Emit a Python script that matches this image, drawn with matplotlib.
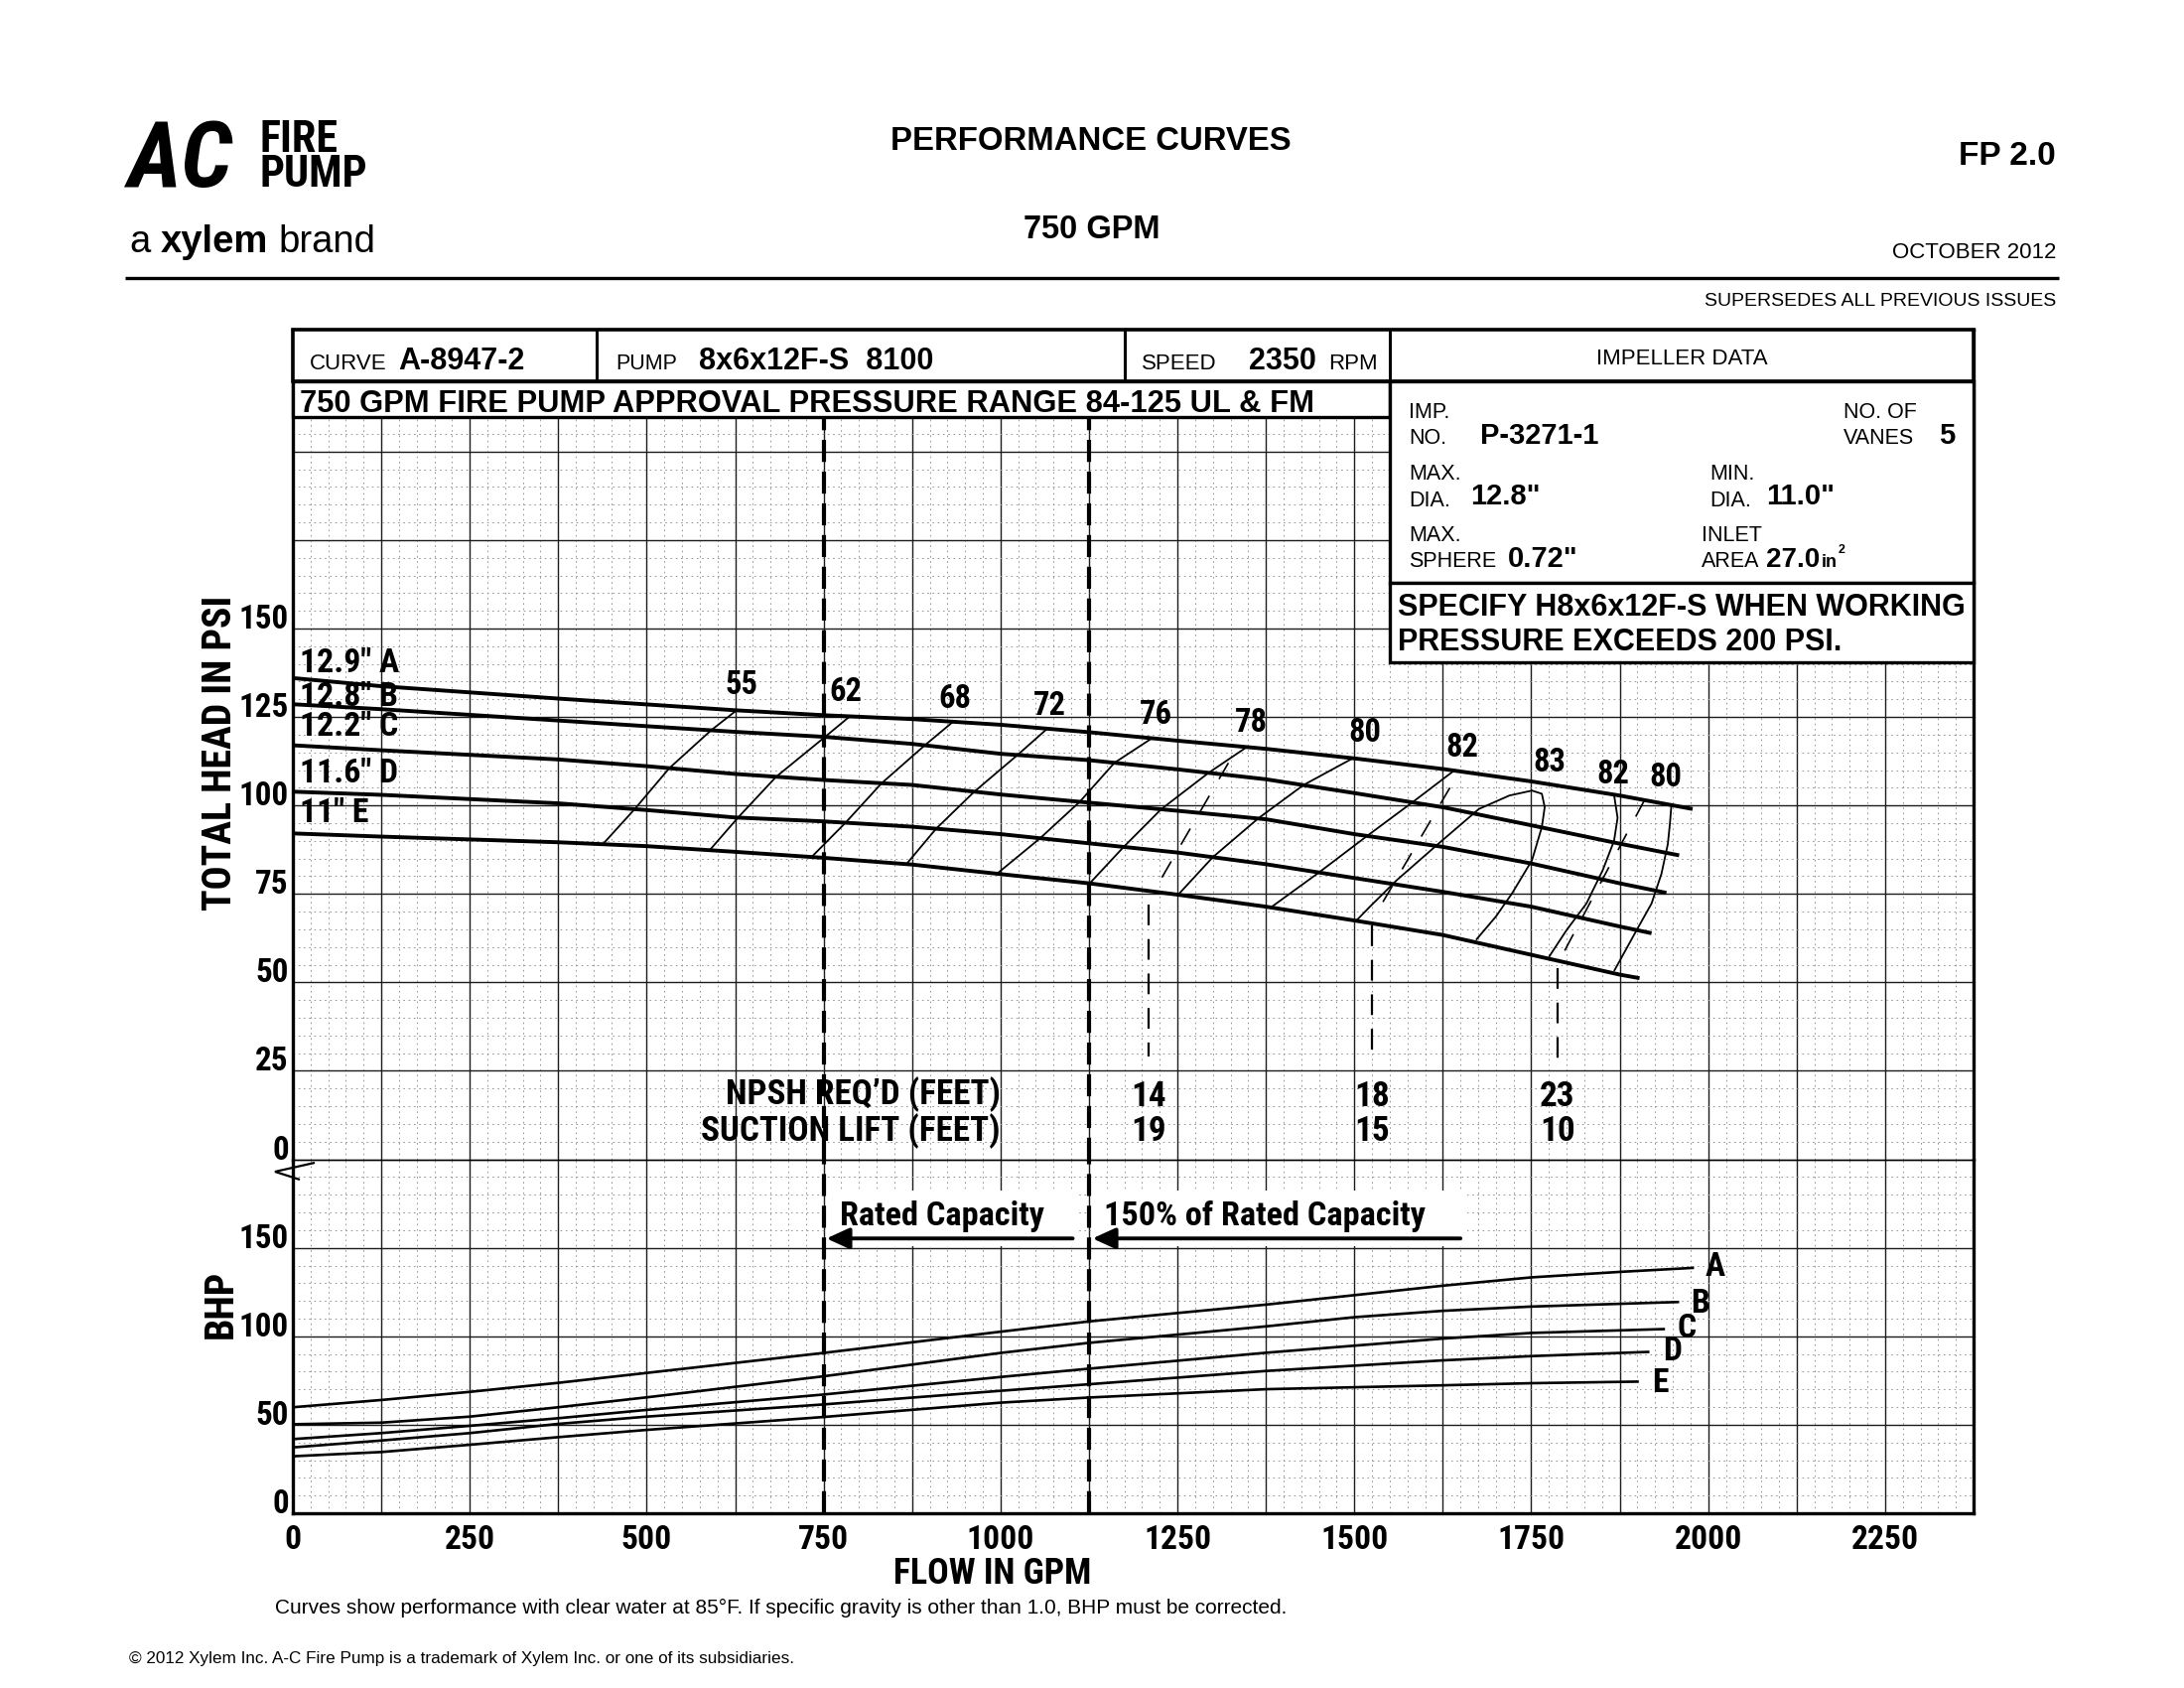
import os
import numpy as np
import matplotlib
matplotlib.use("Agg")
import matplotlib.pyplot as plt
from matplotlib import font_manager as fm
from matplotlib.font_manager import FontProperties
from matplotlib.patches import Rectangle
from matplotlib.lines import Line2D
from matplotlib.ticker import MultipleLocator

# ======================= DATA =======================
X_TICKS = list(range(0, 2376, 125))
X_LABELS = [str(v) if v % 250 == 0 else "" for v in X_TICKS]
HEAD_TICKS = list(range(0, 226, 25))
HEAD_LABELS = [str(v) if v <= 150 else "" for v in HEAD_TICKS]
BHP_TICKS = [0, 50, 100, 150, 200]
BHP_LABELS = ["0", "50", "100", "150", ""]

IMPELLERS = ["A", "B", "C", "D", "E"]
DIAMETERS = ['12.9"', '12.8"', '12.2"', '11.6"', '11"']

# head curves (GPM, PSI)
HEAD_Q_A = [0, 125, 375, 625, 750, 875, 1000, 1125, 1250, 1375, 1500, 1625, 1750, 1875, 1978]
HEAD_P_A = [136.0, 133.7, 130.2, 126.9, 125.5, 124.4, 122.8, 120.7, 118.3, 116.0, 113.3, 110.3, 106.8, 102.8, 99.0]
HEAD_Q_B = [0, 125, 375, 500, 625, 750, 875, 1000, 1125, 1250, 1375, 1500, 1625, 1750, 1875, 1959]
HEAD_P_B = [128.6, 127.2, 124.0, 122.4, 120.8, 119.4, 117.4, 114.6, 112.8, 110.2, 107.4, 103.5, 99.5, 94.4, 89.2, 85.9]
HEAD_Q_C = [0, 125, 375, 500, 625, 750, 875, 1000, 1125, 1250, 1375, 1500, 1625, 1750, 1875, 1941]
HEAD_P_C = [117.0, 115.6, 113.0, 111.1, 108.9, 107.2, 105.8, 103.1, 100.8, 98.5, 96.1, 91.9, 88.3, 83.6, 78.0, 75.3]
HEAD_Q_D = [0, 125, 375, 500, 625, 750, 875, 1000, 1125, 1250, 1375, 1500, 1625, 1750, 1875, 1920]
HEAD_P_D = [103.9, 103.0, 100.6, 98.7, 96.6, 95.5, 94.0, 91.9, 89.3, 86.7, 83.4, 79.5, 75.6, 71.4, 65.8, 63.9]
HEAD_Q_E = [0, 125, 375, 500, 625, 750, 875, 1000, 1125, 1250, 1375, 1500, 1625, 1750, 1875, 1903]
HEAD_P_E = [92.1, 91.2, 89.6, 88.5, 86.9, 85.2, 83.3, 80.6, 78.0, 74.8, 71.4, 67.5, 63.4, 57.8, 52.2, 51.2]

# efficiency lines: flow where each line crosses curves A..E
EFF_55_Q = [627, 591, 532, 483, 438]
EFF_62_Q = [787, 752, 683, 629, 589]
EFF_68_Q = [933, 893, 832, 781, 733]
EFF_72_Q = [1066, 1024, 963, 909, 867]
EFF_76_Q = [1214, 1161, 1112, 1056, 995]
EFF_78_Q = [1348, 1294, 1227, 1174, 1126]
EFF_80_Q = [1498, 1428, 1364, 1300, 1251]
EFF_82_Q = [1641, 1582, 1518, 1450, 1382]
# closed / right-hand efficiency curves (GPM, PSI)
EFF_83_Q = [1503, 1522, 1560, 1616, 1676, 1719, 1751, 1765, 1769, 1765, 1751, 1723, 1700, 1672]
EFF_83_P = [67.5, 71.4, 78.9, 88.7, 99.0, 102.8, 104.2, 103.3, 99.5, 93.9, 84.5, 75.2, 68.6, 62.0]
EFF_82R_Q = [1867, 1872, 1867, 1851, 1828, 1800, 1775]
EFF_82R_P = [103.0, 96.5, 90.0, 81.7, 72.3, 64.8, 57.2]
EFF_80R_Q = [1948, 1946, 1943, 1934, 1920, 1899, 1867]
EFF_80R_P = [100.0, 95.0, 89.1, 80.7, 72.3, 64.8, 53.2]

EFF_LABELS = ["55", "62", "68", "72", "76", "78", "80", "82", "83", "82", "80"]
EFF_LABEL_Q = [634, 781, 936, 1070, 1219, 1354, 1515, 1652, 1776, 1865, 1940]
EFF_LABEL_P = [133.9, 131.9, 130.2, 128.2, 125.6, 123.2, 120.6, 116.2, 112.0, 108.8, 108.0]

CURVE_LABEL_P = [140.3, 130.7, 122.2, 109.0, 97.8]

# NPSH markers
NPSH_Q = [1209, 1525, 1787]
NPSH_REQ = ["14", "18", "23"]
SUCTION_LIFT = ["19", "15", "10"]
NPSH_SLANT_TOP_Q = [1322, 1635, 1910]
NPSH_SLANT_TOP_P = [112.0, 105.0, 101.5]
NPSH_SLANT_BOT_Q = [1216, 1528, 1792]
NPSH_SLANT_BOT_P = [75.5, 68.5, 57.0]
NPSH_VERT_TOP_P = [72.0, 66.0, 54.0]
NPSH_VERT_BOT_P = [29.0, 27.0, 28.0]

# BHP curves (GPM, BHP)
BHP_Q_A = [0, 125, 250, 375, 500, 750, 1000, 1125, 1375, 1625, 1750, 1875, 1980]
BHP_P_A = [59.9, 64.0, 68.6, 73.7, 79.3, 90.6, 102.6, 108.4, 117.9, 128.6, 133.3, 136.4, 138.7]
BHP_Q_B = [0, 125, 250, 375, 500, 750, 1000, 1125, 1375, 1500, 1625, 1750, 1959]
BHP_P_B = [50.3, 51.2, 54.6, 59.9, 65.5, 77.4, 90.6, 96.3, 105.6, 110.8, 114.4, 116.8, 119.4]
BHP_Q_C = [0, 125, 250, 375, 500, 750, 1000, 1125, 1375, 1625, 1750, 1939]
BHP_P_C = [41.9, 45.3, 49.4, 53.7, 58.4, 67.1, 77.0, 81.7, 90.7, 98.7, 101.9, 104.1]
BHP_Q_D = [0, 125, 250, 375, 500, 750, 1000, 1125, 1375, 1625, 1750, 1917]
BHP_P_D = [37.2, 41.1, 45.3, 50.5, 54.6, 61.5, 69.2, 72.9, 80.4, 86.4, 88.8, 91.2]
BHP_Q_E = [0, 125, 250, 375, 500, 750, 1000, 1125, 1375, 1625, 1750, 1902]
BHP_P_E = [32.2, 34.6, 38.7, 43.0, 47.1, 54.4, 62.5, 65.4, 70.1, 72.3, 73.5, 74.4]
BHP_LABEL_Q = [2010, 1989, 1970, 1950, 1932]
BHP_LABEL_P = [138.9, 118.3, 104.3, 91.2, 73.6]

RATED_FLOW = 750
OVERLOAD_FLOW = 1125

# ======================= FONTS =======================
SANS = ["Liberation Sans", "DejaVu Sans"]
plt.rcParams["font.family"] = SANS
plt.rcParams["lines.scale_dashes"] = False
plt.rcParams["lines.solid_capstyle"] = "butt"


def find_font(prefixes):
    files = {}
    for f in fm.fontManager.ttflist:
        files[os.path.basename(f.fname).lower().replace(" ", "").replace("_", "")] = f.fname
    for p in prefixes:
        for b in sorted(files):
            if b.startswith(p):
                return files[b]
    return None

COND_BOLD = find_font(["liberationsansnarrow-bold.", "arialnarrowbold", "arialnarrow-bold",
                       "robotocondensed-bold.", "notosans-condensedbold.", "notosans-semicondensedbold.",
                       "opensans-condensedbold.", "opensanscondensed-bold.", "dejavusanscondensed-bold."])
COND_BOLD_IT = find_font(["liberationsansnarrow-bolditalic.", "robotocondensed-bolditalic.",
                          "notosans-condensedbolditalic.", "notosans-semicondensedbolditalic.",
                          "dejavusanscondensed-boldoblique."])


def cprop(size=20):
    if COND_BOLD:
        return FontProperties(fname=COND_BOLD, size=size)
    return FontProperties(family=SANS, weight="bold", size=size)


def cprop_it(size=20):
    if COND_BOLD_IT:
        return FontProperties(fname=COND_BOLD_IT, size=size)
    return FontProperties(family=SANS, weight="bold", style="italic", size=size)


def sprop(size=20, weight="normal"):
    return FontProperties(family=SANS, weight=weight, size=size)

# ======================= FIGURE =======================
W, H, DPI = 2200, 1700, 100
fig = plt.figure(figsize=(W / DPI, H / DPI), dpi=DPI)
fig.patch.set_facecolor("white")
RND = fig.canvas.get_renderer()


def text_whd(s, prop):
    return RND.get_text_width_height_descent(s, prop, ismath=False)


def text_w(s, prop):
    return text_whd(s, prop)[0]


def fit(s, target_px, maker=cprop, **kw):
    p = maker(20, **kw)
    return 20.0 * target_px / text_w(s, p)


def fit2(s, target_w, target_cap, maker=cprop):
    sw = fit(s, target_w, maker)
    w, h, d = text_whd("H", maker(20))
    sh = 20.0 * target_cap / h
    return float(np.sqrt(sw * sh))


def line_spacing(prop, target_px):
    w, h, d = text_whd("lp", prop)
    return (target_px - d) / (h - d)


def fx(x):
    return x / W


def fy(y):
    return 1 - y / H

# font sizes (pt) fitted to reference text widths / cap heights (px)
S_XT = fit2("2000", 66, 25)
S_YT = fit2("150", 52, 23)
S_EFF = fit2("68", 31, 25)
S_CURVE = fit2('12.9" A', 102, 24)
S_NPSH = fit2("SUCTION LIFT (FEET)", 318, 24)
S_RATED = fit2("150% of Rated Capacity", 348, 23)
S_YLAB = fit2("TOTAL HEAD IN PSI", 337, 27)
S_XLAB = fit2("FLOW IN GPM", 206, 25)
S_BANNER = fit("750 GPM FIRE PUMP APPROVAL PRESSURE RANGE 84-125 UL & FM", 1020, sprop, weight="bold")
S_AC = fit("AC", 106, cprop_it)
S_FIRE = fit2("PUMP", 108, 32)
S_FOOT = fit("Curves show performance with clear water at 85\u00b0F. If specific gravity is other than 1.0, BHP must be corrected.", 1019, sprop)
S_COPY = fit("\u00a9 2012 Xylem Inc. A-C Fire Pump is a trademark of Xylem Inc. or one of its subsidiaries.", 667, sprop)
S_XYL = fit("a xylem brand", 240, sprop)

L, R = 295.0, 1988.0
TOP, MID, BOT = 331.5, 1167.6, 1524.0
CELL = (R - L) / 19.0
HEAD_TOP = 25.0 * (MID - TOP) / CELL
BHP_TOP = 50.0 * (BOT - MID) / CELL
PX_PER_PSI = CELL / 25.0

axh = fig.add_axes([fx(L), fy(MID), (R - L) / W, (MID - TOP) / H])
axb = fig.add_axes([fx(L), fy(BOT), (R - L) / W, (BOT - MID) / H])

MAJ = dict(color="#1c1c1c", lw=1.0, ls="-")
MINR = dict(color="#979797", lw=0.7, ls=(0, (1.2, 2.6)))

for ax in (axh, axb):
    ax.set_xlim(0, 2375)
    ax.set_axisbelow(True)
    ax.xaxis.set_minor_locator(MultipleLocator(25))
    ax.tick_params(which="both", length=0)
    for s in ax.spines.values():
        s.set_linewidth(2.4)
        s.set_color("black")

axh.set_ylim(0, HEAD_TOP)
axb.set_ylim(0, BHP_TOP)
axh.set_xticks(X_TICKS, [""] * len(X_TICKS))
axb.set_xticks(X_TICKS, X_LABELS, fontproperties=cprop(S_XT))
axh.set_yticks(HEAD_TICKS, HEAD_LABELS, va="baseline", fontproperties=cprop(S_YT))
axb.set_yticks(BHP_TICKS, BHP_LABELS, va="baseline", fontproperties=cprop(S_YT))
axh.yaxis.set_minor_locator(MultipleLocator(5))
axb.yaxis.set_minor_locator(MultipleLocator(10))
axh.tick_params(axis="y", pad=3)
axb.tick_params(axis="y", pad=3)
axb.tick_params(axis="x", pad=8)
for ax in (axh, axb):
    ax.grid(which="major", **MAJ)
    ax.grid(which="minor", **MINR)
axh.spines["bottom"].set_visible(False)
axb.spines["top"].set_linewidth(1.0)

# axis labels
axh.set_ylabel("TOTAL HEAD IN PSI", fontproperties=cprop(S_YLAB))
axh.yaxis.set_label_coords((222 - L) / (R - L), (MID - 758) / (MID - TOP))
axh.yaxis.label.set_va("center")
axb.set_ylabel("BHP", fontproperties=cprop(S_YLAB))
axb.yaxis.set_label_coords((223 - L) / (R - L), 0.59)
axb.yaxis.label.set_va("center")
axb.set_xlabel("FLOW IN GPM", fontproperties=cprop(S_XLAB))
axb.xaxis.set_label_coords((1000 - L) / (R - L), (BOT - 1585) / (BOT - MID))
axb.xaxis.label.set_va("center")

# ---------------- head curves ----------------
HQ = [HEAD_Q_A, HEAD_Q_B, HEAD_Q_C, HEAD_Q_D, HEAD_Q_E]
HP = [HEAD_P_A, HEAD_P_B, HEAD_P_C, HEAD_P_D, HEAD_P_E]
for q, p in zip(HQ, HP):
    axh.plot(q, p, color="black", lw=2.8, solid_joinstyle="round", zorder=4)

for i, (d, name) in enumerate(zip(DIAMETERS, IMPELLERS)):
    axh.text(10, CURVE_LABEL_P[i], f"{d} {name}", ha="left", va="center", zorder=6,
             fontproperties=cprop(S_CURVE))

# ---------------- efficiency lines ----------------
for qs in (EFF_55_Q, EFF_62_Q, EFF_68_Q, EFF_72_Q, EFF_76_Q, EFF_78_Q, EFF_80_Q, EFF_82_Q):
    ps = [np.interp(qq, HQ[k], HP[k]) for k, qq in enumerate(qs)]
    axh.plot(qs, ps, color="black", lw=1.3, solid_joinstyle="round", zorder=3)
for q, p in ((EFF_83_Q, EFF_83_P), (EFF_82R_Q, EFF_82R_P), (EFF_80R_Q, EFF_80R_P)):
    axh.plot(q, p, color="black", lw=1.3, solid_joinstyle="round", zorder=3)
for s, q, p in zip(EFF_LABELS, EFF_LABEL_Q, EFF_LABEL_P):
    axh.text(q, p, s, ha="center", va="center", zorder=6, fontproperties=cprop(S_EFF))

# ---------------- NPSH markers ----------------
npsh_prop = cprop(S_NPSH)
NPSH_LS = line_spacing(npsh_prop, 9.6 * PX_PER_PSI)
for i in range(len(NPSH_Q)):
    axh.plot([NPSH_SLANT_TOP_Q[i], NPSH_SLANT_BOT_Q[i]], [NPSH_SLANT_TOP_P[i], NPSH_SLANT_BOT_P[i]],
             color="black", lw=1.2, dashes=(13.5, 14), zorder=3)
    axh.plot([NPSH_Q[i], NPSH_Q[i]], [NPSH_VERT_TOP_P[i], NPSH_VERT_BOT_P[i]],
             color="black", lw=1.6, dashes=(15, 10), zorder=3)
    # va="baseline" aligns the baseline of the last line
    axh.text(NPSH_Q[i], 5.3, f"{NPSH_REQ[i]}\n{SUCTION_LIFT[i]}", ha="center", va="baseline",
             multialignment="center", linespacing=NPSH_LS, zorder=6, fontproperties=npsh_prop)
axh.text(1000, 5.3, "NPSH REQ\u2019D (FEET)\nSUCTION LIFT (FEET)", ha="right", va="baseline",
         multialignment="right", linespacing=NPSH_LS, zorder=6, fontproperties=npsh_prop)

# ---------------- rated / 150% lines ----------------
for xq in (RATED_FLOW, OVERLOAD_FLOW):
    axh.plot([xq, xq], [0, 209.6], color="black", lw=3.0, dashes=(16, 7), zorder=5)
    axb.plot([xq, xq], [0, BHP_TOP], color="black", lw=3.0, dashes=(16, 7), zorder=5)

# ---------------- BHP curves ----------------
BQ = [BHP_Q_A, BHP_Q_B, BHP_Q_C, BHP_Q_D, BHP_Q_E]
BP = [BHP_P_A, BHP_P_B, BHP_P_C, BHP_P_D, BHP_P_E]
for q, p in zip(BQ, BP):
    axb.plot(q, p, color="black", lw=1.9, solid_joinstyle="round", zorder=4)
for name, q, p in zip(IMPELLERS, BHP_LABEL_Q, BHP_LABEL_P):
    axb.text(q, p, name, ha="center", va="center", zorder=6, fontproperties=cprop(S_XT))

axb.add_patch(Rectangle((RATED_FLOW + 3, 150.8), 1108 - RATED_FLOW - 3, 31.6, fc="white", ec="none", zorder=2.5))
axb.add_patch(Rectangle((OVERLOAD_FLOW + 3, 150.8), 1660 - OVERLOAD_FLOW - 3, 31.6, fc="white", ec="none", zorder=2.5))
axb.text(773, 162.7, "Rated Capacity", ha="left", va="baseline", zorder=6, fontproperties=cprop(S_RATED))
axb.text(1146, 162.7, "150% of Rated Capacity", ha="left", va="baseline", zorder=6, fontproperties=cprop(S_RATED))
ARW = dict(arrowstyle="-|>,head_length=0.7,head_width=0.32", lw=2.8, color="black",
           shrinkA=0, shrinkB=0, mutation_scale=20)
axb.annotate("", xy=(RATED_FLOW + 4, 155.3), xytext=(1102, 155.3), arrowprops=ARW, zorder=6)
axb.annotate("", xy=(OVERLOAD_FLOW + 5, 155.3), xytext=(1650, 155.3), arrowprops=ARW, zorder=6)

# ======================= HEADER / TABLE =======================

def frect(x0, y0, x1, y1, lw=2.2, z=5):
    fig.add_artist(Rectangle((fx(x0), fy(y1)), (x1 - x0) / W, (y1 - y0) / H,
                             transform=fig.transFigure, fc="white", ec="black", lw=lw, zorder=z))


def fline(pts, lw=2.2, z=6):
    xs = [fx(p[0]) for p in pts]
    ys = [fy(p[1]) for p in pts]
    fig.add_artist(Line2D(xs, ys, transform=fig.transFigure, color="black", lw=lw, zorder=z,
                          solid_joinstyle="miter"))


def ftext(x, y, s, size, weight="normal", ha="left", va="baseline", prop=None, **kw):
    if prop is None:
        prop = sprop(size, weight)
    return fig.text(fx(x), fy(y), s, fontproperties=prop, ha=ha, va=va, zorder=8, **kw)

frect(L, TOP, R, 384, lw=2.6)
frect(L, 384, 1400, 420, lw=2.4)
frect(1400, 384, R, 587, lw=2.4)
frect(1400, 587, R, 667, lw=2.4)
fline([(601, TOP), (601, 384)])
fline([(1133, TOP), (1133, 384)])
fline([(1400, TOP), (1400, 384)])

ftext(312, 372, "CURVE", 16)
ftext(401, 372, "A-8947-2", 22, "bold")
ftext(620, 372, "PUMP", 15.5)
ftext(704, 372, "8x6x12F-S  8100", 22, "bold")
ftext(1150, 372, "SPEED", 16)
ftext(1258, 372, "2350", 22, "bold")
ftext(1338, 372, "RPM", 16)
ftext(1694, 367, "IMPELLER DATA", 16, ha="center")
ftext(302, 415, "750 GPM FIRE PUMP APPROVAL PRESSURE RANGE 84-125 UL & FM", S_BANNER, "bold")

ftext(1419, 421, "IMP.", 15.5)
ftext(1419, 447, "NO.", 15.5)
ftext(1491, 447, "P-3271-1", 21, "bold")
ftext(1857, 421, "NO. OF", 15.5)
ftext(1857, 447, "VANES", 15.5)
ftext(1953, 447, "5", 21, "bold")
ftext(1419, 483, "MAX.", 15.5)
ftext(1419, 510, "DIA.", 15.5)
ftext(1481, 508, '12.8"', 21, "bold")
ftext(1722, 483, "MIN.", 15.5)
ftext(1722, 510, "DIA.", 15.5)
ftext(1779, 508, '11.0"', 21, "bold")
ftext(1419, 545, "MAX.", 15.5)
ftext(1419, 571, "SPHERE", 15.5)
ftext(1519, 571, '0.72"', 21, "bold")
ftext(1714, 545, "INLET", 15.5)
ftext(1714, 571, "AREA", 15.5)
x27 = 1779
ftext(x27, 571, "27.0", 20, "bold")
x_in = x27 + text_w("27.0", sprop(20, "bold")) + 1
ftext(x_in, 571, "in", 13, "bold")
ftext(x_in + text_w("in", sprop(13, "bold")) + 1, 557, "2", 9, "bold")
ftext(1408, 620, "SPECIFY H8x6x12F-S WHEN WORKING", 22, "bold")
ftext(1408, 655, "PRESSURE EXCEEDS 200 PSI.", 22, "bold")

# axis break symbol
fline([(317, 1171), (277, 1180), (302, 1188)], lw=1.6, z=6)

# ======================= PAGE TEXT =======================
ftext(128, 188, "AC", 0, prop=cprop_it(S_AC))
fire_prop = cprop(S_FIRE)
ftext(262, 188, "FIRE\nPUMP", 0, prop=fire_prop, linespacing=line_spacing(fire_prop, 35))
xa = 130
ftext(xa, 254, "a", S_XYL)
xb = xa + text_w("a ", sprop(S_XYL))
ftext(xb, 254, "xylem", S_XYL, "bold")
xc = xb + text_w("xylem ", sprop(S_XYL, "bold"))
ftext(xc, 254, "brand", S_XYL)

ftext(1099, 151, "PERFORMANCE CURVES", 23.7, "bold", ha="center")
ftext(1100, 240, "750 GPM", 23.5, "bold", ha="center")
ftext(2071, 166, "FP 2.0", 24, "bold", ha="right")
ftext(2071, 260, "OCTOBER 2012", 16, ha="right")
fline([(126, 280), (2074, 280)], lw=2.4)
ftext(2071, 308, "SUPERSEDES ALL PREVIOUS ISSUES", 14, ha="right")

ftext(277, 1625, "Curves show performance with clear water at 85\u00b0F. If specific gravity is other than 1.0, BHP must be corrected.", S_FOOT)
ftext(130, 1675, "\u00a9 2012 Xylem Inc. A-C Fire Pump is a trademark of Xylem Inc. or one of its subsidiaries.", S_COPY)

fig.savefig("out.png", dpi=DPI, facecolor="white")
